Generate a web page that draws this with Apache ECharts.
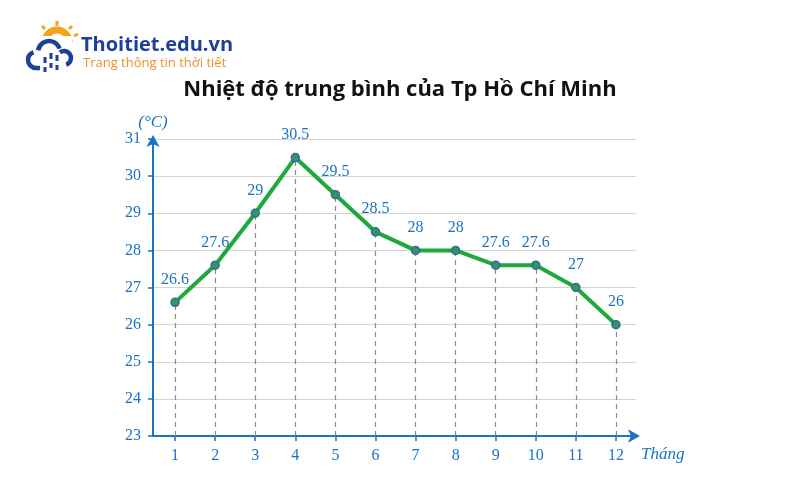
<!DOCTYPE html>
<html><head><meta charset="utf-8">
<script src="https://cdn.jsdelivr.net/npm/echarts@6/dist/echarts.min.js"></script>
<style>html,body{margin:0;padding:0;background:#fff}#c{width:800px;height:500px}</style>
</head><body><div id="c"></div>
<script>
const months = [1,2,3,4,5,6,7,8,9,10,11,12];
const temps = [26.6,27.6,29,30.5,29.5,28.5,28,28,27.6,27.6,27,26];
const yTicks = [23,24,25,26,27,28,29,30,31];
const titleText = 'Nhiệt độ trung bình của Tp Hồ Chí Minh';
const blue = '#1a72c4';
const serif = '"Liberation Serif", "DejaVu Serif", serif';
const navy = '#1e3f9a', orange = '#f5a21e';

const chart = echarts.init(document.getElementById('c'));
const pts = months.map((m,i)=>[m,temps[i]]);
const P = Math.PI;
chart.setOption({
  animation:false,
  title:{text:titleText,left:'center',top:74,textStyle:{fontFamily:'"Open Sans", sans-serif',fontWeight:'bold',fontSize:22,color:'#111'}},
  grid:{left:153,right:164,top:139,bottom:64},
  xAxis:{type:'value',min:0.45,max:12.5,
    axisLine:{lineStyle:{color:blue,width:2},symbol:['none','arrow'],symbolSize:[10,12],symbolOffset:[0,4]},
    axisTick:{show:true,customValues:months,length:5,lineStyle:{color:blue,width:1.5},inside:false},
    axisLabel:{customValues:months,color:blue,fontFamily:serif,fontSize:16,margin:12},
    splitLine:{show:false},
    name:'Tháng',nameLocation:'end',nameGap:5,
    nameTextStyle:{color:blue,fontFamily:serif,fontStyle:'italic',fontSize:17,verticalAlign:'top',padding:[10,0,0,0]}
  },
  yAxis:{type:'value',min:23,max:31,interval:1,
    axisLine:{show:true,lineStyle:{color:blue,width:2},symbol:['none','arrow'],symbolSize:[10,12],symbolOffset:[0,4]},
    axisTick:{show:true,length:5,lineStyle:{color:blue,width:1.5}},
    axisLabel:{color:blue,fontFamily:serif,fontSize:16,margin:12},
    splitLine:{lineStyle:{color:'#d4d4d4',width:1}},
    name:'(°C)',nameLocation:'end',nameGap:8,
    nameTextStyle:{color:blue,fontFamily:serif,fontStyle:'italic',fontSize:17,align:'center'}
  },
  series:[{
    type:'line',data:pts,
    lineStyle:{color:'#1fa83c',width:4},
    symbol:'circle',symbolSize:8,
    itemStyle:{color:'#2e9a55',borderColor:'#3a64b0',borderWidth:1.5},
    label:{show:true,position:'top',distance:10,color:blue,fontFamily:serif,fontSize:16},
    z:5,
    markLine:{silent:true,symbol:'none',label:{show:false},
      lineStyle:{color:'#8a8a8a',type:[5,4],width:1.2},
      data:pts.map(p=>[{coord:[p[0],23]},{coord:[p[0],p[1]]}])}
  }],
  graphic:[
    {type:'arc',shape:{cx:57,cy:42,r:12,startAngle:P,endAngle:2*P},style:{stroke:orange,lineWidth:7,fill:null}},
    {type:'line',shape:{x1:57,y1:21,x2:57,y2:26},style:{stroke:orange,lineWidth:3}},
    {type:'line',shape:{x1:42,y1:26,x2:45,y2:29},style:{stroke:orange,lineWidth:3}},
    {type:'line',shape:{x1:72,y1:26,x2:69,y2:29},style:{stroke:orange,lineWidth:3}},
    {type:'line',shape:{x1:74,y1:36,x2:78,y2:34},style:{stroke:orange,lineWidth:3}},
    {type:'rect',shape:{x:40,y:36,width:32,height:10},style:{fill:'#fff'}},
    {type:'arc',shape:{cx:36,cy:60,r:8,startAngle:P*0.5,endAngle:P*1.4},style:{stroke:navy,lineWidth:4.5,fill:null}},
    {type:'arc',shape:{cx:49,cy:52,r:11,startAngle:P*1.05,endAngle:P*1.9},style:{stroke:navy,lineWidth:4.5,fill:null}},
    {type:'arc',shape:{cx:64,cy:58,r:7,startAngle:P*1.3,endAngle:P*0.4},style:{stroke:navy,lineWidth:4.5,fill:null}},
    {type:'line',shape:{x1:36,y1:68,x2:40,y2:68},style:{stroke:navy,lineWidth:4.5}},
    {type:'line',shape:{x1:45,y1:57,x2:45,y2:63},style:{stroke:navy,lineWidth:3}},
    {type:'line',shape:{x1:45,y1:67,x2:45,y2:72},style:{stroke:navy,lineWidth:3}},
    {type:'line',shape:{x1:51,y1:53,x2:51,y2:59},style:{stroke:navy,lineWidth:3}},
    {type:'line',shape:{x1:51,y1:63,x2:51,y2:68},style:{stroke:navy,lineWidth:3}},
    {type:'line',shape:{x1:57,y1:55,x2:57,y2:61},style:{stroke:navy,lineWidth:3}},
    {type:'line',shape:{x1:57,y1:65,x2:57,y2:70},style:{stroke:navy,lineWidth:3}},
    {type:'text',left:81,top:35,style:{text:'Thoitiet.edu.vn',fill:navy,font:'bold 20px "Open Sans", sans-serif'}},
    {type:'text',left:83,top:57,style:{text:'Trang thông tin thời tiết',fill:'#f0902a',font:'13px "Open Sans", sans-serif'}}
  ]
});
</script></body></html>
